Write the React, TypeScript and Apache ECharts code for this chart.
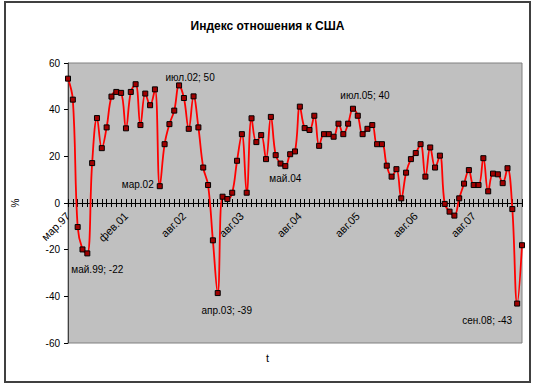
import React, { useEffect, useRef } from "react";
import * as echarts from "echarts";

const categories: string[] = [
  "мар.97", "дек.98", "мар.99", "апр.99", "май.99", "июл.99", "ноя.99", "мар.00", "июн.00", "сен.00",
  "ноя.00", "дек.00", "фев.01", "апр.01", "июн.01", "сен.01", "окт.01", "дек.01", "фев.02", "мар.02",
  "апр.02", "май.02", "июн.02", "июл.02", "авг.02", "сен.02", "окт.02", "ноя.02", "дек.02", "фев.03",
  "мар.03", "апр.03", "апр.03 II", "май.03", "июн.03", "июл.03", "авг.03", "сен.03", "окт.03", "ноя.03",
  "дек.03", "янв.04", "фев.04", "мар.04", "апр.04", "май.04", "июн.04", "июл.04", "авг.04", "сен.04",
  "окт.04", "ноя.04", "дек.04", "янв.05", "фев.05", "мар.05", "апр.05", "май.05", "июн.05", "июл.05",
  "авг.05", "сен.05", "окт.05", "ноя.05", "дек.05", "янв.06", "фев.06", "мар.06", "апр.06", "май.06",
  "июн.06", "июл.06", "авг.06", "сен.06", "окт.06", "ноя.06", "дек.06", "янв.07", "фев.07", "мар.07",
  "апр.07", "май.07", "июн.07", "июл.07", "авг.07", "сен.07", "окт.07", "ноя.07", "дек.07", "фев.08",
  "апр.08", "июн.08", "авг.08", "сен.08", "окт.08",
];

const values: number[] = [
  53.3, 44.3, -10.3, -19.9, -21.6, 17.1, 36.4, 23.5, 32.4, 45.6,
  47.6, 47.2, 32.0, 47.6, 50.9, 33.4, 46.9, 41.9, 48.7, 7.2,
  25.2, 33.8, 39.6, 50.4, 45.0, 31.8, 45.7, 32.4, 15.2, 7.7,
  -16.0, -38.6, 2.7, 1.7, 4.4, 18.1, 29.5, 4.4, 36.3, 26.1,
  29.1, 18.8, 36.9, 20.5, 16.9, 15.8, 20.9, 22.1, 41.3, 32.1,
  31.3, 37.4, 24.5, 29.5, 29.5, 28.4, 34.0, 29.5, 34.0, 40.4,
  37.4, 29.5, 31.8, 33.4, 25.2, 25.2, 16.0, 11.3, 14.5, 2.0,
  13.0, 18.8, 21.4, 25.2, 11.3, 23.8, 15.2, 20.3, -0.4, -3.7,
  -5.4, 2.0, 8.3, 14.1, 7.7, 7.7, 19.2, 5.0, 12.6, 12.3,
  8.5, 14.9, -2.6, -43.1, -18.1,
];

const yMin = -60;
const yMax = 60;
const yStep = 20;

const annotated: string[] = ["май.99", "мар.02", "июл.02", "апр.03", "май.04", "июл.05", "сен.08"];
const annotatedWithValue: string[] = ["май.99", "июл.02", "апр.03", "июл.05", "сен.08"];

const TITLE = "Индекс отношения к США";
const X_NAME = "t";
const Y_NAME = "%";

const W = 535;
const H = 388;
const GRID = { left: 68, right: 13, top: 63, bottom: 45 };

export default function App() {
  const ref = useRef<HTMLDivElement>(null);
  useEffect(() => {
    if (!ref.current) return;
    const chart = echarts.init(ref.current, null, { renderer: "svg" });
    const font = "'Liberation Sans', Arial, sans-serif";
    const gridH = H - GRID.top - GRID.bottom;
    const zeroFromBottom = (gridH * (0 - yMin)) / (yMax - yMin);
    const zeroFromTop = gridH - zeroFromBottom;
    const labelOffsets: Record<string, [number, number]> = {
      "май.99": [10, 16],
      "мар.02": [-22, -2],
      "июл.02": [11, -8],
      "апр.03": [9, 17],
      "май.04": [0, 12],
      "июл.05": [12, -13],
      "сен.08": [-30, 17],
    };
    const data = values.map((v, i) => {
      const cat = categories[i];
      if (!annotated.includes(cat)) return v;
      const text = annotatedWithValue.includes(cat) ? `${cat}; ${Math.round(v)}` : cat;
      return {
        value: v,
        label: {
          show: true,
          position: "inside",
          offset: labelOffsets[cat] || [0, 0],
          formatter: text,
          color: "#000",
          fontSize: 10,
          fontFamily: font,
        },
      };
    });
    chart.setOption({
      animation: false,
      backgroundColor: "#ffffff",
      title: {
        text: TITLE,
        left: "center",
        top: 15,
        textStyle: { fontSize: 12, fontWeight: "bold", color: "#000", fontFamily: font },
      },
      grid: {
        ...GRID,
        show: true,
        backgroundColor: "#c0c0c0",
        borderColor: "#808080",
        borderWidth: 1,
      },
      xAxis: [
        {
          type: "category",
          data: categories,
          boundaryGap: false,
          position: "bottom",
          offset: -zeroFromBottom,
          axisLine: { show: true, onZero: false, lineStyle: { color: "#000", width: 1 } },
          axisTick: { show: true, interval: 0, length: 4, inside: false, lineStyle: { color: "#000" } },
          axisLabel: {
            interval: 11,
            rotate: 45,
            margin: 11,
            fontSize: 11,
            color: "#000",
            fontFamily: font,
            hideOverlap: false,
          },
          splitLine: { show: false },
        },
        {
          type: "category",
          data: categories,
          boundaryGap: false,
          position: "top",
          offset: -zeroFromTop,
          axisLine: { show: false, onZero: false },
          axisTick: { show: true, interval: 0, length: 4, inside: false, lineStyle: { color: "#000" } },
          axisLabel: { show: false },
          splitLine: { show: false },
        },
      ],
      yAxis: [
        {
          type: "value",
          min: yMin,
          max: yMax,
          interval: yStep,
          name: Y_NAME,
          nameLocation: "middle",
          nameGap: 48,
          nameRotate: 90,
          nameTextStyle: { fontSize: 10, color: "#000", fontFamily: font },
          axisLine: { show: true, lineStyle: { color: "#404040" } },
          axisTick: { show: true, length: 4, lineStyle: { color: "#000" } },
          axisLabel: { fontSize: 10, color: "#000", margin: 8, fontFamily: font },
          splitLine: { show: false },
        },
      ],
      series: [
        {
          type: "line",
          data,
          xAxisIndex: 0,
          yAxisIndex: 0,
          smooth: 0.4,
          showAllSymbol: true,
          symbol: "rect",
          symbolSize: 5,
          lineStyle: { color: "#ff0000", width: 1.8 },
          itemStyle: { color: "#a00000", borderColor: "#000", borderWidth: 1 },
          label: { show: false },
          emphasis: { disabled: true },
          z: 3,
        },
      ],
      graphic: [
        {
          type: "rect",
          shape: { x: 5, y: 2, width: 525, height: 380 },
          style: { fill: "none", stroke: "#404040", lineWidth: 2 },
          silent: true,
          z: 100,
        },
        {
          type: "text",
          left: "center",
          top: 352,
          style: { text: X_NAME, fontSize: 11, fill: "#000", font: `11px ${font}` },
          silent: true,
        },
      ],
    });
    return () => chart.dispose();
  }, []);
  return (
    <div
      ref={ref}
      style={{ position: "fixed", left: 0, top: 0, width: W, height: H, background: "#fff" }}
    />
  );
}
